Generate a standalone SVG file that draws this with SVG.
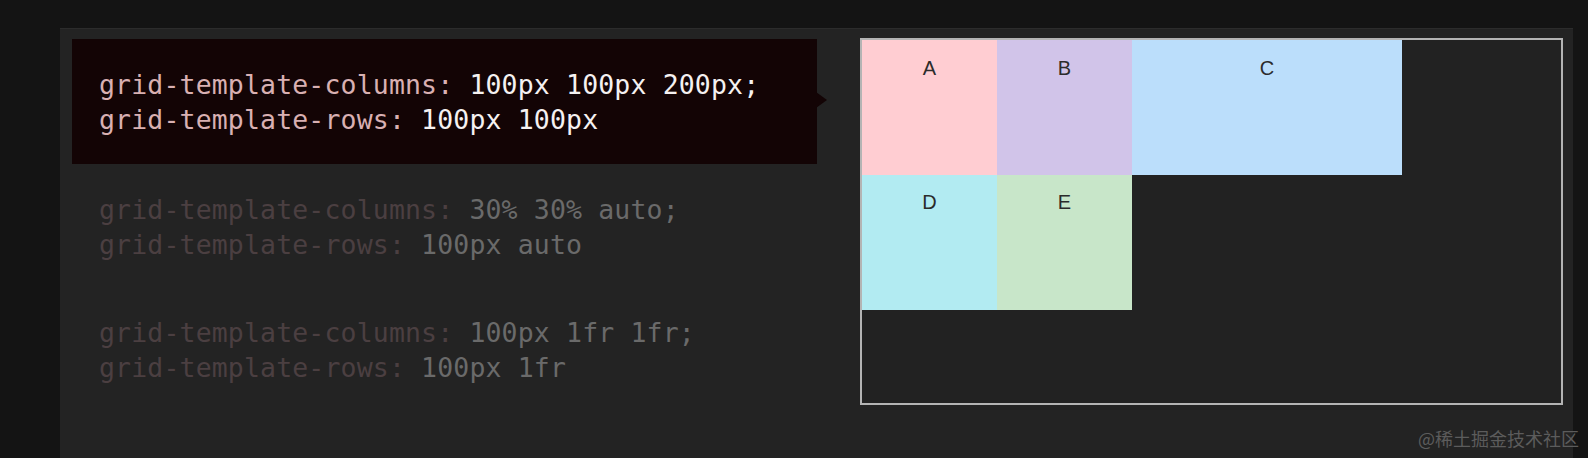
<svg xmlns="http://www.w3.org/2000/svg" width="1588" height="458" viewBox="0 0 1588 458">
  <style>
    .code { font-family: "DejaVu Sans Mono", "Liberation Mono", monospace; font-size: 26.5px; letter-spacing: 0.15px; }
    .hp { fill: #d9b0b2; }
    .hv { fill: #f5f1f1; }
    .gp { fill: #4b3f41; }
    .gv { fill: #6a6a6a; }
    .lbl { font-family: "Liberation Sans", Arial, sans-serif; font-size: 20px; fill: #2b2b2b; text-anchor: middle; }
    .wm { font-family: "Noto Sans CJK SC", "Liberation Sans", sans-serif; font-size: 18px; fill: #5c5c5c; text-anchor: end; }
  </style>
  <rect x="0" y="0" width="1588" height="458" fill="#141414"/>
  <rect x="60" y="28" width="1513" height="430" fill="#232323"/>
  <line x1="60" y1="28.5" x2="1573" y2="28.5" stroke="#2c2c2c" stroke-width="1"/>

  <g id="code-active">
    <rect x="72" y="39" width="745" height="125" fill="#130405"/>
    <polygon points="816,92 827,100 816,108" fill="#130405"/>
    <text class="code" x="99" y="94"><tspan class="hp">grid-template-columns:</tspan><tspan class="hv"> 100px 100px 200px;</tspan></text>
    <text class="code" x="99" y="129"><tspan class="hp">grid-template-rows:</tspan><tspan class="hv"> 100px 100px</tspan></text>
  </g>

  <g id="code-2">
    <text class="code" x="99" y="219"><tspan class="gp">grid-template-columns:</tspan><tspan class="gv"> 30% 30% auto;</tspan></text>
    <text class="code" x="99" y="254"><tspan class="gp">grid-template-rows:</tspan><tspan class="gv"> 100px auto</tspan></text>
  </g>

  <g id="code-3">
    <text class="code" x="99" y="342"><tspan class="gp">grid-template-columns:</tspan><tspan class="gv"> 100px 1fr 1fr;</tspan></text>
    <text class="code" x="99" y="377"><tspan class="gp">grid-template-rows:</tspan><tspan class="gv"> 100px 1fr</tspan></text>
  </g>

  <g id="grid-container">
    <rect x="861" y="39" width="701" height="365" fill="#222222" stroke="#b4b4b4" stroke-width="2"/>
  </g>
  <g id="cell-A">
    <rect x="862" y="40" width="135" height="135" fill="#ffcdd2"/>
    <text class="lbl" x="929.5" y="75">A</text>
  </g>
  <g id="cell-B">
    <rect x="997" y="40" width="135" height="135" fill="#d1c4e9"/>
    <text class="lbl" x="1064.5" y="75">B</text>
  </g>
  <g id="cell-C">
    <rect x="1132" y="40" width="270" height="135" fill="#bbdefb"/>
    <text class="lbl" x="1267" y="75">C</text>
  </g>
  <g id="cell-D">
    <rect x="862" y="175" width="135" height="135" fill="#b2ebf2"/>
    <text class="lbl" x="929.5" y="209">D</text>
  </g>
  <g id="cell-E">
    <rect x="997" y="175" width="135" height="135" fill="#c8e6c9"/>
    <text class="lbl" x="1064.5" y="209">E</text>
  </g>
  <g id="connectors"></g>

  <text class="wm" x="1579" y="446">@稀土掘金技术社区</text>
</svg>
